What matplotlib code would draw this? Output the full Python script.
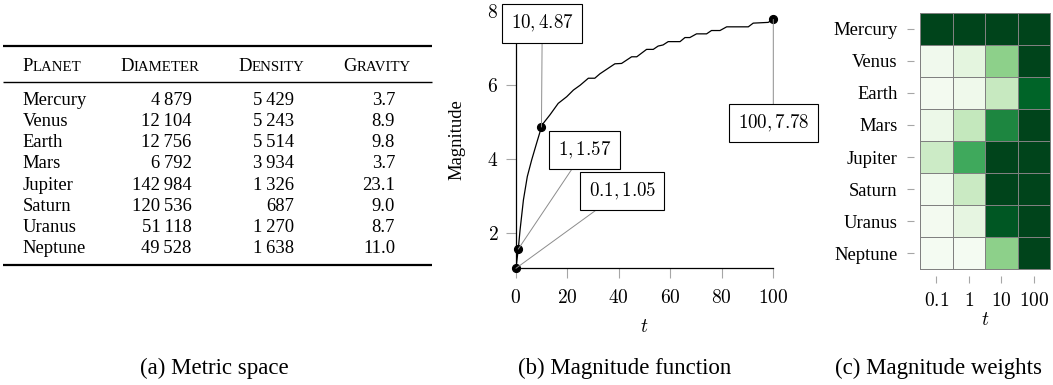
import matplotlib.pyplot as plt
import numpy as np

plt.rcParams['font.family'] = ['Liberation Serif', 'DejaVu Serif']
plt.rcParams['mathtext.fontset'] = 'cm'

# table data
planets = ['Mercury', 'Venus', 'Earth', 'Mars', 'Jupiter', 'Saturn', 'Uranus', 'Neptune']
diameter = [4879, 12104, 12756, 6792, 142984, 120536, 51118, 49528]
density = [5429, 5243, 5514, 3934, 1326, 687, 1270, 1638]
gravity = [3.7, 8.9, 9.8, 3.7, 23.1, 9.0, 8.7, 11.0]
headers = ['Planet', 'Diameter', 'Density', 'Gravity']

# magnitude function
t_vals = [0.1, 1, 1.7, 3, 4.5, 6.2, 8.1, 10, 10.7, 13.3, 16.5, 19.8, 22.4, 25,
          28.2, 30.7, 32.7, 38.5, 41.1, 45.0, 47.0, 50.8, 53.4, 55.3, 57.2,
          59.2, 63.8, 65.7, 67.6, 70.2, 74.1, 76.0, 79.3, 81.9, 90.3, 92.2,
          98, 100]
mag_vals = [1.05, 1.57, 2.09, 2.90, 3.53, 3.98, 4.43, 4.87, 4.97, 5.2, 5.51,
            5.69, 5.87, 6.0, 6.19, 6.19, 6.31, 6.58, 6.59, 6.77, 6.77, 6.97,
            6.97, 7.06, 7.09, 7.18, 7.18, 7.29, 7.29, 7.39, 7.39, 7.48, 7.48,
            7.58, 7.58, 7.68, 7.70, 7.78]
marked_t = [0.1, 1, 10, 100]
marked_mag = [1.05, 1.57, 4.87, 7.78]
# where the value boxes sit (data coords)
box_pos = [(41.4, 3.14), (26.7, 4.24), (10.3, 7.67), (100, 4.97)]

# magnitude weights
scales = ['0.1', '1', '10', '100']
weights = np.array([
    [1.00, 1.00, 1.00, 1.00],
    [0.05, 0.13, 0.43, 1.00],
    [0.03, 0.06, 0.25, 0.90],
    [0.08, 0.26, 0.77, 1.00],
    [0.23, 0.63, 1.00, 1.00],
    [0.04, 0.24, 1.00, 1.00],
    [0.03, 0.12, 0.94, 1.00],
    [0.02, 0.02, 0.43, 1.00],
])

W, H = 1053, 385
TXT = 13.4


def px_rect(x0, y0, x1, y1):
    return [x0 / W, 1 - y1 / H, (x1 - x0) / W, (y1 - y0) / H]


def group(v):
    return f"{v:,}".replace(',', '\u2009')


fig = plt.figure(figsize=(W / 100, H / 100), dpi=100)

# background axes in pixel units for the table and captions
bg = fig.add_axes([0, 0, 1, 1])
bg.set_xlim(0, W)
bg.set_ylim(H, 0)
bg.axis('off')

# booktabs rules
bg.hlines(46, 2.7, 432, color='black', lw=1.6)
bg.hlines(81.7, 2.7, 432, color='black', lw=1.0)
bg.hlines(265, 2.7, 432, color='black', lw=1.6)

# small caps headers
head_x = [22.7, 120, 238, 343]
for x, word in zip(head_x, headers):
    first = bg.text(x, 70.7, word[0], fontsize=TXT, va='baseline')
    bg.annotate(word[1:].upper(), xy=(1, 0), xycoords=first,
                xytext=(0, 0.5), textcoords='offset points',
                fontsize=TXT * 0.8, va='bottom', ha='left')

for i, name in enumerate(planets):
    y = 105 + i * 21.14
    bg.text(22.7, y, name, fontsize=TXT, va='baseline')
    bg.text(191.7, y, group(diameter[i]), fontsize=TXT, va='baseline', ha='right')
    bg.text(294, y, group(density[i]), fontsize=TXT, va='baseline', ha='right')
    bg.text(395, y, f"{gravity[i]:.1f}", fontsize=TXT, va='baseline', ha='right')

# captions
bg.text(140, 374, '(a) Metric space', fontsize=16.5, va='baseline')
bg.text(518, 374, '(b) Magnitude function', fontsize=16.5, va='baseline')
bg.text(835, 374, '(c) Magnitude weights', fontsize=16.5, va='baseline')

# magnitude function
ax = fig.add_axes(px_rect(515.7, 11.3, 773.3, 268.3))
ax.plot(t_vals, mag_vals, color='black', lw=0.9, zorder=3)
ax.plot(marked_t, marked_mag, 'o', color='black', ms=5.6, zorder=4, clip_on=False)
ax.set_xlim(0, 100)
ax.set_ylim(1.05, 8)
for side in ['top', 'right']:
    ax.spines[side].set_visible(False)
for side in ['left', 'bottom']:
    ax.spines[side].set_linewidth(0.9)
xt = [0, 20, 40, 60, 80, 100]
yt = [2, 4, 6, 8]
ax.set_xticks(xt, labels=[f'${v}$' for v in xt], fontsize=14)
ax.set_yticks(yt, labels=[f'${v}$' for v in yt], fontsize=14)
ax.tick_params(axis='both', color='0.65', length=7, width=0.8)
ax.tick_params(axis='x', pad=8)
ax.tick_params(axis='y', pad=5.5)
ax.set_ylabel('Magnitude', fontsize=TXT, va='center')
ax.yaxis.set_label_coords(-0.229, 0.5)
ax.set_xlabel('$t$', fontsize=14, va='center')
ax.xaxis.set_label_coords(0.5, -0.232)

for tx, ty, (bx, by) in zip(marked_t, marked_mag, box_pos):
    ax.annotate(f'${tx:g}, {ty:.2f}$', xy=(tx, ty), xytext=(bx, by),
                ha='center', va='center', fontsize=13.6,
                bbox=dict(boxstyle='square,pad=0.45', fc='white', ec='black', lw=0.8),
                arrowprops=dict(arrowstyle='-', color='0.55', lw=0.7,
                                shrinkA=0, shrinkB=0),
                annotation_clip=False, zorder=5)

# magnitude weights heatmap
hx = fig.add_axes(px_rect(920, 12.7, 1050, 269.3))
mesh = hx.pcolormesh(weights, cmap='Greens', vmin=0, vmax=1,
                     edgecolors='0.5', linewidth=0.5)
mesh.set_clip_on(False)
hx.set_xlim(0, 4)
hx.set_ylim(8, 0)
for side in ['top', 'right']:
    hx.spines[side].set_visible(False)
for side in ['left', 'bottom']:
    hx.spines[side].set_position(('outward', 4.5))
    hx.spines[side].set_visible(False)
hx.set_xticks(np.arange(4) + 0.5, labels=[f'${s}$' for s in scales], fontsize=14)
hx.set_yticks(np.arange(8) + 0.5, labels=planets, fontsize=TXT)
hx.tick_params(axis='both', color='0.65', length=5, width=0.8)
hx.tick_params(axis='x', pad=7)
hx.tick_params(axis='y', pad=6.5)
hx.set_xlabel('$t$', fontsize=14, va='center')
hx.xaxis.set_label_coords(0.5, -0.198)

fig.savefig('out.png', dpi=100)
